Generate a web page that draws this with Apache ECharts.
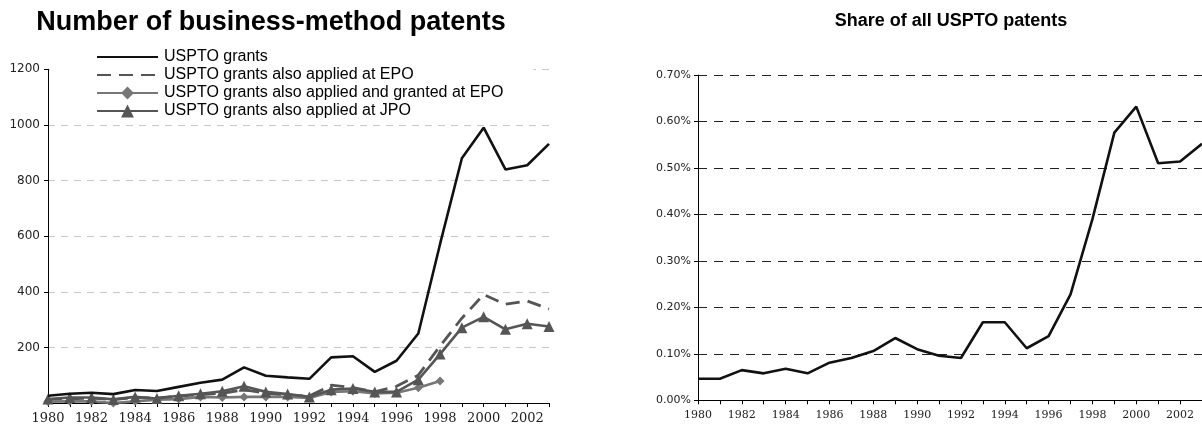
<!DOCTYPE html>
<html>
<head>
<meta charset="utf-8">
<script src="https://cdn.jsdelivr.net/npm/echarts@6/dist/echarts.min.js"></script>
<style>
  html, body { margin: 0; padding: 0; background: #fff; }
  #chart { width: 1202px; height: 425px; }
</style>
</head>
<body>
<div id="chart"></div>
<script>
// Years on both x axes
const years = ['1980','1981','1982','1983','1984','1985','1986','1987','1988','1989','1990','1991',
               '1992','1993','1994','1995','1996','1997','1998','1999','2000','2001','2002','2003'];

// Business-method patent counts
const usptoGrants   = [26, 33, 37, 32, 47, 43, 58, 73, 84, 128, 98, 92, 87, 164, 168, 112, 152, 250, 572, 880, 990, 840, 855, 932];
const epoApplied    = [12, 15, 18, 12, 20, 18, 25, 30, 35, 48, 35, 28, 25, 64, 55, 40, 60, 100, 205, 305, 390, 355, 367, 338];
const epoGranted    = [5, 6, 6, 0, 6, 12, 14, 22, 20, 22, 22, 22, 18, 40, 42, 34, 37, 55, 79, null, null, null, null, null];
const jpoApplied    = [14, 20, 20, 13, 22, 16, 26, 33, 42, 60, 40, 32, 22, 48, 52, 40, 40, 84, 176, 271, 310, 265, 285, 275];

// Share of all USPTO patents, in percent
const sharePct      = [0.0465, 0.0465, 0.065, 0.058, 0.068, 0.058, 0.081, 0.091, 0.106, 0.134, 0.110, 0.096,
                       0.091, 0.168, 0.168, 0.112, 0.138, 0.228, 0.39, 0.576, 0.632, 0.510, 0.514, 0.552];

// Tick values
const countTicks = { min: 0, max: 1200, interval: 200 };
const shareTicks = { min: 0, max: 0.7, interval: 0.1 };

const seriesNames = [
  'USPTO grants',
  'USPTO grants also applied at EPO',
  'USPTO grants also applied and granted at EPO',
  'USPTO grants also applied at JPO'
];

const chart = echarts.init(document.getElementById('chart'), null, { renderer: 'canvas' });

const yearTick = { show: true, interval: 0, length: 4, inside: false, lineStyle: { color: '#000' } };

chart.setOption({
  animation: false,
  backgroundColor: '#fff',
  graphic: [
    { type: 'text', x: 271, y: 23, style: { text: 'Number of business-method patents', fill: '#000',
      font: 'bold 27px "Liberation Sans", Arial, sans-serif', textAlign: 'center', textVerticalAlign: 'middle' } },
    { type: 'text', x: 951, y: 21, style: { text: 'Share of all USPTO patents', fill: '#000',
      font: 'bold 18px "Liberation Sans", Arial, sans-serif', textAlign: 'center', textVerticalAlign: 'middle' } }
  ],
  legend: {
    left: 50, top: 46,
    orient: 'vertical',
    backgroundColor: '#fff',
    padding: [3, 30, 0, 46],
    itemWidth: 61, itemHeight: 16, itemGap: 2,
    textStyle: { fontFamily: '"Liberation Sans", Arial, sans-serif', fontSize: 16, color: '#000', padding: [0, 0, 0, 1] },
    data: [
      { name: seriesNames[0], itemStyle: { opacity: 0 } },
      { name: seriesNames[1], itemStyle: { opacity: 0 } },
      { name: seriesNames[2] },
      { name: seriesNames[3] }
    ]
  },
  grid: [
    { left: 48, top: 69.3, width: 501, height: 335.3, containLabel: false },
    { left: 698, top: 75, width: 505.4, height: 325.3, containLabel: false }
  ],
  xAxis: [
    { type: 'category', gridIndex: 0, data: years, boundaryGap: false,
      axisLine: { lineStyle: { color: '#000', width: 1 } },
      axisTick: yearTick,
      axisLabel: { interval: 1, margin: 9, color: '#222', fontFamily: 'DejaVu Serif', fontSize: 13 },
      splitLine: { show: false } },
    { type: 'category', gridIndex: 1, data: years, boundaryGap: false,
      axisLine: { lineStyle: { color: '#000', width: 1 } },
      axisTick: yearTick,
      axisLabel: { interval: 1, margin: 9, color: '#222', fontFamily: 'DejaVu Serif', fontSize: 11 },
      splitLine: { show: false } }
  ],
  yAxis: [
    { type: 'value', gridIndex: 0, min: countTicks.min, max: countTicks.max, interval: countTicks.interval,
      axisLine: { show: true, lineStyle: { color: '#000', width: 1 } },
      axisTick: { show: true, length: 4, lineStyle: { color: '#000' } },
      axisLabel: { margin: 8, color: '#222', fontFamily: 'DejaVu Sans', fontSize: 12,
        formatter: v => (v === 0 ? '' : String(v)) },
      splitLine: { show: true, lineStyle: { color: '#c8c8c8', width: 1, type: [7, 6] } } },
    { type: 'value', gridIndex: 1, min: shareTicks.min, max: shareTicks.max, interval: shareTicks.interval,
      axisLine: { show: true, lineStyle: { color: '#000', width: 1 } },
      axisTick: { show: true, length: 4, lineStyle: { color: '#000' } },
      axisLabel: { margin: 7, color: '#222', fontFamily: 'DejaVu Sans', fontSize: 11,
        formatter: v => v.toFixed(2) + '%' },
      splitLine: { show: true, lineStyle: { color: '#222', width: 1, type: [9, 7] } } }
  ],
  series: [
    { name: seriesNames[0], type: 'line', xAxisIndex: 0, yAxisIndex: 0, data: usptoGrants,
      symbol: 'none', lineStyle: { color: '#111', width: 2.6 }, itemStyle: { color: '#111' }, z: 5 },
    { name: seriesNames[1], type: 'line', xAxisIndex: 0, yAxisIndex: 0, data: epoApplied,
      symbol: 'none', lineStyle: { color: '#555', width: 2.8, type: [14, 8] }, itemStyle: { color: '#555' }, z: 2 },
    { name: seriesNames[2], type: 'line', xAxisIndex: 0, yAxisIndex: 0, data: epoGranted,
      symbol: 'diamond', symbolSize: 9, showAllSymbol: true, connectNulls: false,
      lineStyle: { color: '#777', width: 2.6 }, itemStyle: { color: '#777' }, z: 3 },
    { name: seriesNames[3], type: 'line', xAxisIndex: 0, yAxisIndex: 0, data: jpoApplied,
      symbol: 'triangle', symbolSize: 11, showAllSymbol: true,
      lineStyle: { color: '#555', width: 2.6 }, itemStyle: { color: '#555' }, z: 4 },
    { name: 'Share of all USPTO patents', type: 'line', xAxisIndex: 1, yAxisIndex: 1, data: sharePct,
      symbol: 'none', lineStyle: { color: '#111', width: 2.6 }, itemStyle: { color: '#111' } }
  ]
});
</script>
</body>
</html>
